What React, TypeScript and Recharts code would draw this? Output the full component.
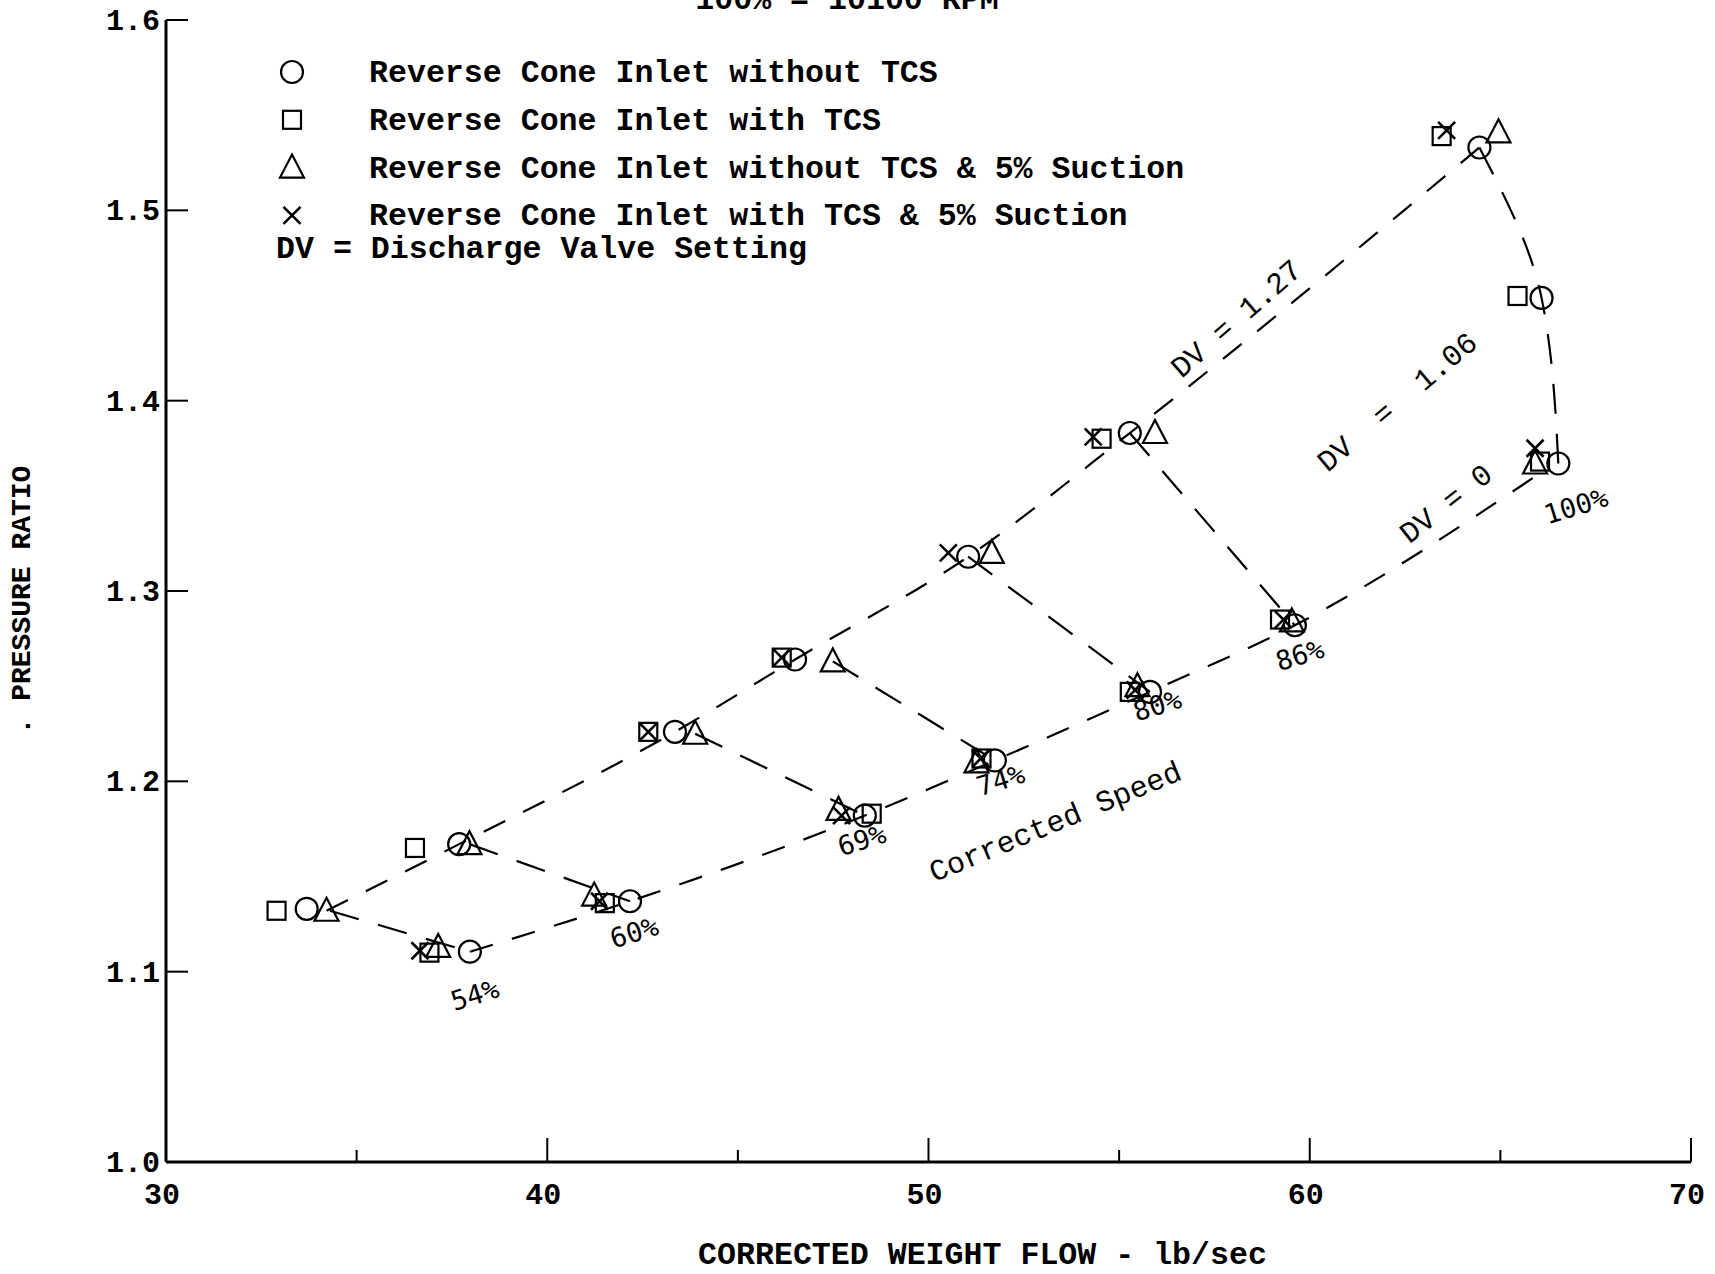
import React from 'react';
import { ComposedChart, Line, Scatter, XAxis, YAxis, Legend } from 'recharts';

const MONO = '"Liberation Mono", "Courier New", monospace';
const LEROY = '"DejaVu Sans Mono", monospace';

// ---- data (corrected weight flow lb/sec, pressure ratio) ----
const withoutTcs = [
  { x: 37.97, y: 1.1105 }, { x: 42.17, y: 1.137 }, { x: 48.33, y: 1.182 }, { x: 51.74, y: 1.211 },
  { x: 55.81, y: 1.247 }, { x: 59.61, y: 1.282 }, { x: 66.52, y: 1.367 },
  { x: 33.69, y: 1.133 }, { x: 37.69, y: 1.167 }, { x: 43.35, y: 1.226 }, { x: 46.5, y: 1.264 },
  { x: 51.04, y: 1.318 }, { x: 55.28, y: 1.383 }, { x: 64.45, y: 1.533 },
  { x: 66.08, y: 1.454 },
];
const withTcs = [
  { x: 36.91, y: 1.11 }, { x: 41.51, y: 1.136 }, { x: 48.51, y: 1.183 }, { x: 51.39, y: 1.212 },
  { x: 55.28, y: 1.247 }, { x: 59.22, y: 1.285 }, { x: 66.04, y: 1.368 },
  { x: 32.9, y: 1.132 }, { x: 36.53, y: 1.165 }, { x: 42.65, y: 1.226 }, { x: 46.15, y: 1.265 },
  { x: 54.54, y: 1.38 }, { x: 63.46, y: 1.539 },
  { x: 65.45, y: 1.455 },
];
const withoutTcsSuction = [
  { x: 37.14, y: 1.113 }, { x: 41.23, y: 1.14 }, { x: 47.64, y: 1.185 }, { x: 51.26, y: 1.21 },
  { x: 55.48, y: 1.25 }, { x: 59.53, y: 1.284 }, { x: 65.91, y: 1.367 },
  { x: 34.21, y: 1.132 }, { x: 37.96, y: 1.167 }, { x: 43.88, y: 1.225 }, { x: 47.49, y: 1.263 },
  { x: 51.66, y: 1.32 }, { x: 55.94, y: 1.383 }, { x: 64.95, y: 1.541 },
];
const withTcsSuction = [
  { x: 36.66, y: 1.111 }, { x: 41.37, y: 1.137 }, { x: 47.72, y: 1.182 }, { x: 51.37, y: 1.212 },
  { x: 55.42, y: 1.248 }, { x: 59.31, y: 1.285 }, { x: 65.91, y: 1.375 },
  { x: 42.65, y: 1.226 }, { x: 46.15, y: 1.265 }, { x: 50.52, y: 1.32 }, { x: 54.32, y: 1.381 },
  { x: 63.59, y: 1.542 },
];

// faired curves drawn on the original
const dv127Curve = [
  { x: 34.21, y: 1.132 }, { x: 37.69, y: 1.167 }, { x: 43.35, y: 1.226 }, { x: 46.5, y: 1.264 },
  { x: 51.04, y: 1.318 }, { x: 55.28, y: 1.383 }, { x: 64.45, y: 1.533 },
];
const dv0Curve = [
  { x: 37.97, y: 1.1105 }, { x: 42.17, y: 1.137 }, { x: 48.33, y: 1.182 }, { x: 51.74, y: 1.211 },
  { x: 55.81, y: 1.247 }, { x: 59.61, y: 1.282 }, { x: 65.9, y: 1.36 },
];
const speed54 = [{ x: 34.3, y: 1.132 }, { x: 37.97, y: 1.1105 }];
const speed60 = [{ x: 37.96, y: 1.167 }, { x: 42.17, y: 1.137 }];
const speed69 = [{ x: 43.88, y: 1.225 }, { x: 48.33, y: 1.182 }];
const speed74 = [{ x: 47.49, y: 1.263 }, { x: 51.74, y: 1.211 }];
const speed80 = [{ x: 51.04, y: 1.318 }, { x: 55.81, y: 1.247 }];
const speed86 = [{ x: 55.28, y: 1.383 }, { x: 59.61, y: 1.282 }];
const speed100 = [{ x: 64.45, y: 1.533 }, { x: 66.08, y: 1.454 }, { x: 66.52, y: 1.367 }];
const speedLines = [speed54, speed60, speed69, speed74, speed80, speed86];

const xTicks = [30, 35, 40, 45, 50, 55, 60, 65, 70];
const yTicks = [1.0, 1.1, 1.2, 1.3, 1.4, 1.5, 1.6];

const seriesNames = [
  'Reverse Cone Inlet without TCS',
  'Reverse Cone Inlet with TCS',
  'Reverse Cone Inlet without TCS & 5% Suction',
  'Reverse Cone Inlet with TCS & 5% Suction',
];
const seriesKinds = ['circle', 'square', 'triangle', 'cross'];
const dvNote = 'DV = Discharge Valve Setting';
const titleText = '100% = 10100 RPM';

const speedLabels = [
  { x: 38.1, y: 1.0878, text: '54%' },
  { x: 42.28, y: 1.1207, text: '60%' },
  { x: 48.25, y: 1.1692, text: '69%' },
  { x: 51.89, y: 1.2007, text: '74%' },
  { x: 56.0, y: 1.2399, text: '80%' },
  { x: 59.74, y: 1.2664, text: '86%' },
  { x: 66.98, y: 1.3447, text: '100%' },
];
const curveLabels = [
  { x: 53.34, y: 1.178, text: 'Corrected Speed' },
  { x: 58.1, y: 1.4425, text: 'DV = 1.27' },
  { x: 62.32, y: 1.3987, text: 'DV  =  1.06' },
  { x: 63.6, y: 1.3452, text: 'DV = 0' },
];
const curveLabelAngles = [-22.5, -41, -40, -38];

function Marker({ kind, cx, cy }: { kind: string; cx: number; cy: number }) {
  const s = { fill: 'none', stroke: '#000', strokeWidth: 2.2 };
  if (kind === 'circle') return <circle cx={cx} cy={cy} r={11} {...s} />;
  if (kind === 'square') return <rect x={cx - 9} y={cy - 9} width={18} height={18} {...s} />;
  if (kind === 'triangle')
    return <path d={`M${cx},${cy - 13} L${cx + 12},${cy + 10} L${cx - 12},${cy + 10} Z`} {...s} />;
  return (
    <path
      d={`M${cx - 8.5},${cy - 8.5} L${cx + 8.5},${cy + 8.5} M${cx + 8.5},${cy - 8.5} L${cx - 8.5},${cy + 8.5}`}
      fill="none"
      stroke="#000"
      strokeWidth={2.6}
    />
  );
}

const shapeFor = (kind: string) => (p: any) =>
  p.cx == null ? <g /> : <Marker kind={kind} cx={p.cx} cy={p.cy} />;

const XTick = (p: any) => {
  const v = p.payload.value;
  const major = v % 10 === 0;
  return (
    <g>
      <line x1={p.x} x2={p.x} y1={p.y} y2={p.y - (major ? 24 : 12)} stroke="#000" strokeWidth={2} />
      {major && (
        <text x={p.x - 4} y={p.y + 42} textAnchor="middle" fontFamily={MONO} fontWeight="bold" fontSize={30} fill="#000">
          {v}
        </text>
      )}
    </g>
  );
};

const YTick = (p: any) => {
  const v = p.payload.value;
  return (
    <g>
      <line x1={p.x} x2={p.x + 22} y1={p.y} y2={p.y} stroke="#000" strokeWidth={2} />
      <text x={p.x - 6} y={p.y + 10} textAnchor="end" fontFamily={MONO} fontWeight="bold" fontSize={30} fill="#000">
        {Number(v).toFixed(1)}
      </text>
    </g>
  );
};

const renderLegend = () => (
  <svg width={1715} height={290} style={{ display: 'block' }}>
    <text x={847} y={9} textAnchor="middle" fontFamily={MONO} fontWeight="bold" fontSize={31.6} fill="#000">
      {titleText}
    </text>
    {seriesNames.map((name, i) => {
      const cy = 72 + i * 47.8;
      return (
        <g key={name}>
          <Marker kind={seriesKinds[i]} cx={292} cy={cy} />
          <text x={369} y={cy + 10} fontFamily={MONO} fontWeight="bold" fontSize={31.6} fill="#000" style={{ whiteSpace: 'pre' }}>
            {name}
          </text>
        </g>
      );
    })}
    <text x={276} y={258} fontFamily={MONO} fontWeight="bold" fontSize={31.6} fill="#000">
      {dvNote}
    </text>
  </svg>
);

const dashCurve = '24 20';
const dashSpeed = '30 20';

export default function App() {
  return (
    <div style={{ position: 'absolute', left: 0, top: 0, background: '#fff' }}>
      <ComposedChart width={1715} height={1274} margin={{ top: 20, right: 24, bottom: 52, left: 106 }}>
        <XAxis
          type="number"
          dataKey="x"
          domain={[30, 70]}
          ticks={xTicks}
          interval={0}
          height={60}
          tickSize={0}
          tickMargin={0}
          axisLine={{ stroke: '#000', strokeWidth: 3 }}
          tickLine={false}
          tick={<XTick />}
          allowDataOverflow
          label={{
            content: (props: any) => {
              const vb = props.viewBox;
              return (
                <text x={vb.x + vb.width / 2 + 54} y={vb.y + 102} textAnchor="middle" fontFamily={MONO} fontWeight="bold" fontSize={31.6} fill="#000">
                  CORRECTED WEIGHT FLOW - lb/sec
                </text>
              );
            },
          }}
        />
        <YAxis
          type="number"
          dataKey="y"
          domain={[1.0, 1.6]}
          ticks={yTicks}
          interval={0}
          width={60}
          tickSize={0}
          tickMargin={0}
          axisLine={{ stroke: '#000', strokeWidth: 3 }}
          tickLine={false}
          tick={<YTick />}
          allowDataOverflow
          label={{
            content: (props: any) => {
              const vb = props.viewBox;
              const cx = vb.x + vb.width - 144;
              const cy = 600;
              return (
                <text x={cx} y={cy} transform={`rotate(-90 ${cx} ${cy})`} textAnchor="middle" dominantBaseline="central" fontFamily={MONO} fontWeight="bold" fontSize={28} fill="#000" style={{ whiteSpace: 'pre' }}>
                  {'. PRESSURE RATIO'}
                </text>
              );
            },
          }}
        />
        <Legend
          layout="vertical"
          align="center"
          verticalAlign="middle"
          wrapperStyle={{ position: 'absolute', left: 0, top: 0, width: 1715, height: 290, pointerEvents: 'none' }}
          content={renderLegend}
        />
        <Line data={dv127Curve} dataKey="y" type="monotone" stroke="#000" strokeWidth={2.2} strokeDasharray={dashCurve} dot={false} activeDot={false} isAnimationActive={false} legendType="none" />
        <Line data={dv0Curve} dataKey="y" type="monotone" stroke="#000" strokeWidth={2.2} strokeDasharray={dashCurve} dot={false} activeDot={false} isAnimationActive={false} legendType="none" />
        {speedLines.map((d, i) => (
          <Line key={'s' + i} data={d} dataKey="y" type="linear" stroke="#000" strokeWidth={2.2} strokeDasharray={dashSpeed} dot={false} activeDot={false} isAnimationActive={false} legendType="none" />
        ))}
        <Line data={speed100} dataKey="y" type="monotoneY" stroke="#000" strokeWidth={2.2} strokeDasharray={dashSpeed} dot={false} activeDot={false} isAnimationActive={false} legendType="none" />
        <Scatter name={seriesNames[0]} data={withoutTcs} shape={shapeFor('circle')} isAnimationActive={false} />
        <Scatter name={seriesNames[1]} data={withTcs} shape={shapeFor('square')} isAnimationActive={false} />
        <Scatter name={seriesNames[2]} data={withoutTcsSuction} shape={shapeFor('triangle')} isAnimationActive={false} />
        <Scatter name={seriesNames[3]} data={withTcsSuction} shape={shapeFor('cross')} isAnimationActive={false} />
        <Scatter
          data={speedLabels}
          legendType="none"
          isAnimationActive={false}
          shape={(p: any) => (
            <text x={p.cx} y={p.cy} transform={`rotate(-17 ${p.cx} ${p.cy})`} textAnchor="middle" dominantBaseline="central" fontFamily={LEROY} fontSize={27} fill="#000">
              {p.payload.text}
            </text>
          )}
        />
        <Scatter
          data={curveLabels}
          legendType="none"
          isAnimationActive={false}
          shape={(p: any) => {
            const idx = curveLabels.findIndex((c) => c.text === p.payload.text);
            const a = curveLabelAngles[idx] ?? 0;
            return (
              <text x={p.cx} y={p.cy} transform={`rotate(${a} ${p.cx} ${p.cy})`} textAnchor="middle" dominantBaseline="central" fontFamily={MONO} fontSize={30} fill="#000" style={{ whiteSpace: 'pre' }}>
                {p.payload.text}
              </text>
            );
          }}
        />
      </ComposedChart>
    </div>
  );
}
